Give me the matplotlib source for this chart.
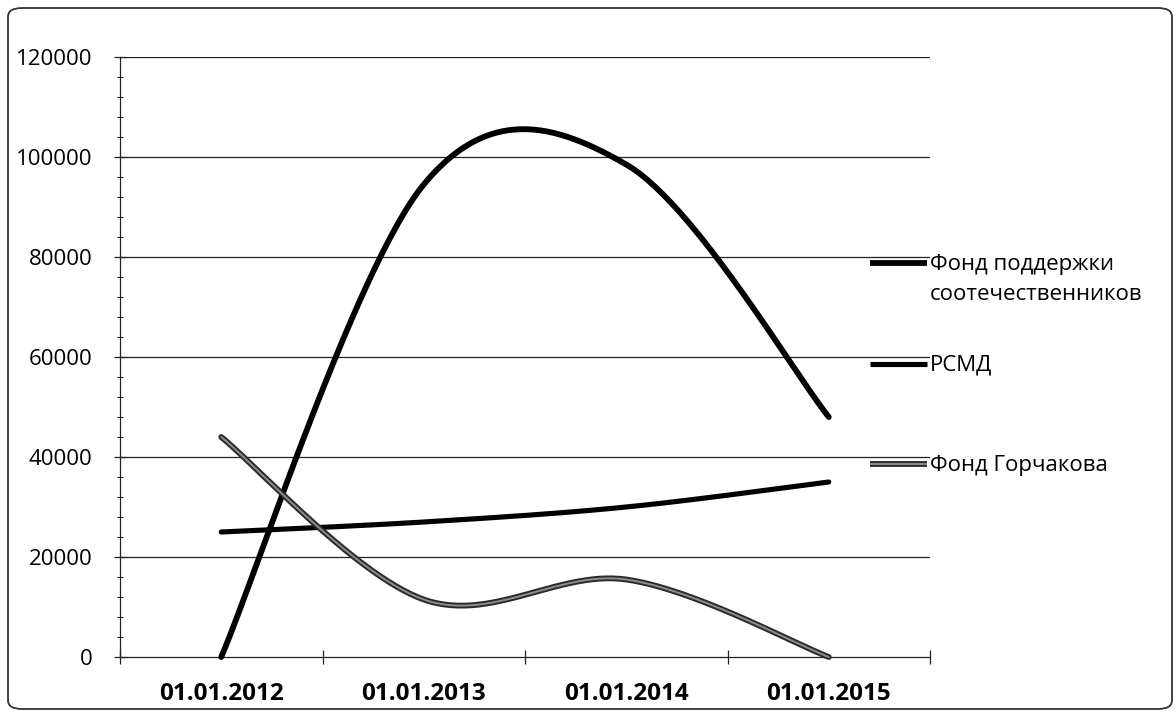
import numpy as np
import matplotlib
matplotlib.use('Agg')
import matplotlib.pyplot as plt
from matplotlib import patheffects as pe
from matplotlib.patches import FancyBboxPatch
from matplotlib.lines import Line2D
from matplotlib.ticker import MultipleLocator, FixedLocator, NullFormatter, FixedFormatter

# ---- data ----
dates = ['01.01.2012', '01.01.2013', '01.01.2014', '01.01.2015']
fond_podderzhki = [0, 94500, 98500, 48000]
rsmd = [25000, 27000, 30000, 35000]
fond_gorchakova = [44000, 11500, 15500, 0]
names = ['Фонд поддержки\nсоотечественников', 'РСМД', 'Фонд Горчакова']
y_ticks = [0, 20000, 40000, 60000, 80000, 100000, 120000]

FONT = ['Open Sans', 'DejaVu Sans']
plt.rcParams['font.family'] = FONT


def smooth(xs, ys, n=60):
    """Excel-like smoothed line: cubic Bezier with Catmull-Rom control points."""
    xs = np.asarray(xs, float)
    ys = np.asarray(ys, float)
    px = np.concatenate([[xs[0]], xs, [xs[-1]]])
    py = np.concatenate([[ys[0]], ys, [ys[-1]]])
    t = np.linspace(0, 1, n)
    ox, oy = [], []
    for i in range(len(xs) - 1):
        x0, x1, x2, x3 = px[i], px[i + 1], px[i + 2], px[i + 3]
        y0, y1, y2, y3 = py[i], py[i + 1], py[i + 2], py[i + 3]
        c1x, c1y = x1 + (x2 - x0) / 6, y1 + (y2 - y0) / 6
        c2x, c2y = x2 - (x3 - x1) / 6, y2 - (y3 - y1) / 6
        b0 = (1 - t) ** 3
        b1 = 3 * (1 - t) ** 2 * t
        b2 = 3 * (1 - t) * t ** 2
        b3 = t ** 3
        ox.append(b0 * x1 + b1 * c1x + b2 * c2x + b3 * x2)
        oy.append(b0 * y1 + b1 * c1y + b2 * c2y + b3 * y2)
    return np.concatenate(ox), np.concatenate(oy)


W, H = 1176, 715
fig = plt.figure(figsize=(W / 100, H / 100), dpi=100)
fig.patch.set_facecolor('white')

# rounded chart border
border = FancyBboxPatch((8 / W, 6 / H), (1164 / W), (701 / H),
                        boxstyle='round,pad=0,rounding_size=0.012',
                        transform=fig.transFigure, fill=False,
                        edgecolor='#333333', linewidth=1.3)
fig.patches.append(border)

ax = fig.add_axes([120 / W, 58 / H, 810 / W, 600 / H])
xpos = np.arange(len(dates))

ax.set_xlim(-0.5, len(dates) - 0.5)
ax.set_ylim(0, 120000)

# gridlines
for v in y_ticks[1:]:
    ax.axhline(v, color='#222222', linewidth=0.9, zorder=1)

for s in ['top', 'right']:
    ax.spines[s].set_visible(False)
for s in ['left', 'bottom']:
    ax.spines[s].set_color('#222222')
    ax.spines[s].set_linewidth(0.9)

# y axis ticks
ax.yaxis.set_major_locator(FixedLocator(y_ticks))
ax.yaxis.set_minor_locator(MultipleLocator(4000))
ax.tick_params(axis='y', which='major', direction='inout', length=8, width=0.9,
               color='#222222', labelsize=16, pad=16)
ax.tick_params(axis='y', which='minor', direction='inout', length=5, width=0.8,
               color='#222222')

# x axis: ticks between categories, labels at categories
ax.xaxis.set_major_locator(FixedLocator(np.arange(-0.5, len(dates), 1.0)))
ax.xaxis.set_major_formatter(NullFormatter())
ax.xaxis.set_minor_locator(FixedLocator(xpos))
ax.xaxis.set_minor_formatter(FixedFormatter(dates))
ax.tick_params(axis='x', which='major', direction='inout', length=10, width=0.9,
               color='#222222')
ax.tick_params(axis='x', which='minor', length=0, pad=18, labelsize=17.5)
for lab in ax.get_xticklabels(minor=True):
    lab.set_fontweight('bold')

# series styles
styles = [
    dict(color='black', linewidth=4.2, solid_capstyle='round', zorder=4),
    dict(color='black', linewidth=3.7, solid_capstyle='round', zorder=3),
    dict(color='#8c8c8c', linewidth=1.4, solid_capstyle='round', zorder=5,
         path_effects=[pe.Stroke(linewidth=4.2, foreground='#2a2a2a'), pe.Normal()]),
]
series = [fond_podderzhki, rsmd, fond_gorchakova]
for vals, name, st in zip(series, names, styles):
    sx, sy = smooth(xpos, vals)
    ax.plot(sx, sy, label=name, clip_on=False, **st)

# legend, laid out like Excel's right-hand legend
leg_y = [263, 364, 464]
for name, st, yy in zip(names, styles, leg_y):
    yf = 1 - yy / H
    st2 = {k: v for k, v in st.items() if k != 'zorder'}
    st2['solid_capstyle'] = 'butt'
    fig.add_artist(Line2D([870 / W, 927 / W], [yf, yf], transform=fig.transFigure, **st2))
    fig.text(930 / W, yf + 9 / H, name, ha='left', va='top', fontsize=16,
             linespacing=1.55, color='black')

fig.savefig('out.png', dpi=100, facecolor='white')
